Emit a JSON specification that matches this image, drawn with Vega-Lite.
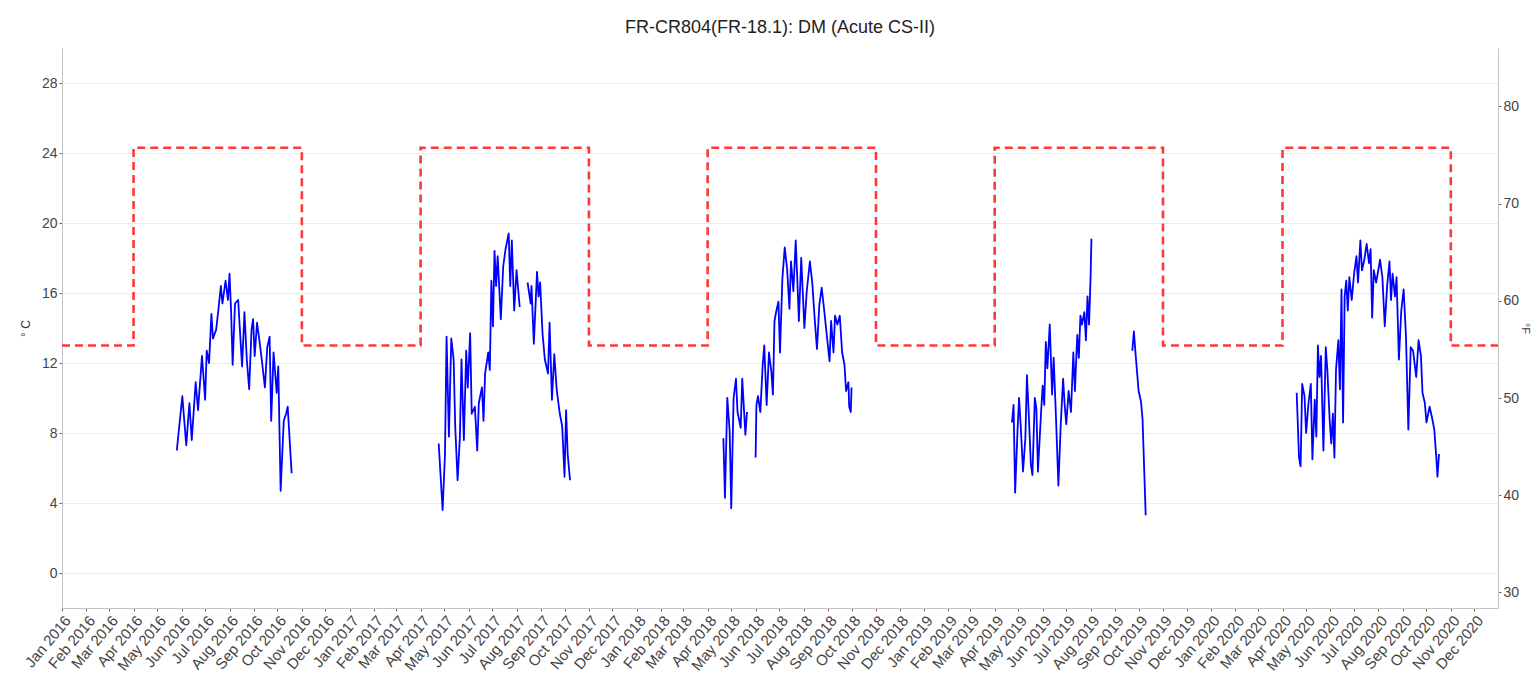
{
  "$schema": "https://vega.github.io/schema/vega-lite/v6.json",
  "width": 1436,
  "height": 560,
  "autosize": "none",
  "padding": {"left": 62, "top": 48, "right": 38, "bottom": 83},
  "background": "white",
  "config": {
    "view": {"stroke": null},
    "font": "Liberation Sans",
    "axis": {
      "domainColor": "#c4c4c4",
      "tickColor": "#666666",
      "tickSize": 3,
      "labelColor": "#444444",
      "labelFontSize": 14,
      "titleColor": "#333333",
      "titleFontSize": 12,
      "titleFontWeight": "normal"
    }
  },
  "title": {
    "text": "FR-CR804(FR-18.1): DM (Acute CS-II)",
    "fontSize": 18,
    "fontWeight": "normal",
    "color": "#222222",
    "anchor": "middle",
    "offset": 11
  },
  "datasets": {
    "temps": [
      {"d": "2016-05-26", "t": 7.0, "s": "2016"},
      {"d": "2016-06-02", "t": 10.1, "s": "2016"},
      {"d": "2016-06-07", "t": 7.3, "s": "2016"},
      {"d": "2016-06-11", "t": 9.7, "s": "2016"},
      {"d": "2016-06-14", "t": 7.6, "s": "2016"},
      {"d": "2016-06-19", "t": 10.9, "s": "2016"},
      {"d": "2016-06-22", "t": 9.3, "s": "2016"},
      {"d": "2016-06-27", "t": 12.4, "s": "2016"},
      {"d": "2016-07-01", "t": 9.9, "s": "2016"},
      {"d": "2016-07-03", "t": 12.7, "s": "2016"},
      {"d": "2016-07-06", "t": 12.0, "s": "2016"},
      {"d": "2016-07-09", "t": 14.8, "s": "2016"},
      {"d": "2016-07-11", "t": 13.4, "s": "2016"},
      {"d": "2016-07-15", "t": 13.9, "s": "2016"},
      {"d": "2016-07-18", "t": 15.1, "s": "2016"},
      {"d": "2016-07-21", "t": 16.4, "s": "2016"},
      {"d": "2016-07-23", "t": 15.4, "s": "2016"},
      {"d": "2016-07-27", "t": 16.7, "s": "2016"},
      {"d": "2016-07-30", "t": 15.6, "s": "2016"},
      {"d": "2016-08-01", "t": 17.1, "s": "2016"},
      {"d": "2016-08-03", "t": 15.0, "s": "2016"},
      {"d": "2016-08-05", "t": 11.9, "s": "2016"},
      {"d": "2016-08-08", "t": 15.4, "s": "2016"},
      {"d": "2016-08-12", "t": 15.6, "s": "2016"},
      {"d": "2016-08-15", "t": 13.3, "s": "2016"},
      {"d": "2016-08-17", "t": 11.8, "s": "2016"},
      {"d": "2016-08-20", "t": 14.9, "s": "2016"},
      {"d": "2016-08-23", "t": 12.2, "s": "2016"},
      {"d": "2016-08-26", "t": 10.5, "s": "2016"},
      {"d": "2016-08-29", "t": 13.9, "s": "2016"},
      {"d": "2016-08-31", "t": 14.5, "s": "2016"},
      {"d": "2016-09-02", "t": 12.4, "s": "2016"},
      {"d": "2016-09-05", "t": 14.3, "s": "2016"},
      {"d": "2016-09-08", "t": 13.3, "s": "2016"},
      {"d": "2016-09-11", "t": 12.2, "s": "2016"},
      {"d": "2016-09-15", "t": 10.6, "s": "2016"},
      {"d": "2016-09-18", "t": 12.9, "s": "2016"},
      {"d": "2016-09-21", "t": 13.5, "s": "2016"},
      {"d": "2016-09-23", "t": 8.7, "s": "2016"},
      {"d": "2016-09-26", "t": 12.6, "s": "2016"},
      {"d": "2016-09-30", "t": 10.3, "s": "2016"},
      {"d": "2016-10-02", "t": 11.8, "s": "2016"},
      {"d": "2016-10-05", "t": 4.7, "s": "2016"},
      {"d": "2016-10-09", "t": 8.7, "s": "2016"},
      {"d": "2016-10-12", "t": 9.1, "s": "2016"},
      {"d": "2016-10-14", "t": 9.5, "s": "2016"},
      {"d": "2016-10-19", "t": 5.7, "s": "2016"},

      {"d": "2017-04-24", "t": 7.4, "s": "2017a"},
      {"d": "2017-04-27", "t": 5.1, "s": "2017a"},
      {"d": "2017-04-29", "t": 3.6, "s": "2017a"},
      {"d": "2017-05-02", "t": 6.8, "s": "2017a"},
      {"d": "2017-05-04", "t": 13.5, "s": "2017a"},
      {"d": "2017-05-07", "t": 7.8, "s": "2017a"},
      {"d": "2017-05-10", "t": 13.4, "s": "2017a"},
      {"d": "2017-05-13", "t": 12.2, "s": "2017a"},
      {"d": "2017-05-15", "t": 8.4, "s": "2017a"},
      {"d": "2017-05-18", "t": 5.3, "s": "2017a"},
      {"d": "2017-05-21", "t": 7.8, "s": "2017a"},
      {"d": "2017-05-23", "t": 12.2, "s": "2017a"},
      {"d": "2017-05-26", "t": 7.6, "s": "2017a"},
      {"d": "2017-05-29", "t": 12.7, "s": "2017a"},
      {"d": "2017-05-31", "t": 10.6, "s": "2017a"},
      {"d": "2017-06-03", "t": 13.7, "s": "2017a"},
      {"d": "2017-06-05", "t": 9.1, "s": "2017a"},
      {"d": "2017-06-09", "t": 9.5, "s": "2017a"},
      {"d": "2017-06-12", "t": 7.0, "s": "2017a"},
      {"d": "2017-06-14", "t": 9.7, "s": "2017a"},
      {"d": "2017-06-18", "t": 10.6, "s": "2017a"},
      {"d": "2017-06-20", "t": 8.7, "s": "2017a"},
      {"d": "2017-06-22", "t": 11.4, "s": "2017a"},
      {"d": "2017-06-26", "t": 12.6, "s": "2017a"},
      {"d": "2017-06-28", "t": 11.6, "s": "2017a"},
      {"d": "2017-06-30", "t": 16.7, "s": "2017a"},
      {"d": "2017-07-02", "t": 14.1, "s": "2017a"},
      {"d": "2017-07-04", "t": 18.4, "s": "2017a"},
      {"d": "2017-07-06", "t": 16.4, "s": "2017a"},
      {"d": "2017-07-08", "t": 18.1, "s": "2017a"},
      {"d": "2017-07-12", "t": 14.5, "s": "2017a"},
      {"d": "2017-07-15", "t": 17.5, "s": "2017a"},
      {"d": "2017-07-18", "t": 18.5, "s": "2017a"},
      {"d": "2017-07-22", "t": 19.4, "s": "2017a"},
      {"d": "2017-07-24", "t": 16.4, "s": "2017a"},
      {"d": "2017-07-26", "t": 19.0, "s": "2017a"},
      {"d": "2017-07-29", "t": 15.0, "s": "2017a"},
      {"d": "2017-08-01", "t": 17.3, "s": "2017a"},
      {"d": "2017-08-05", "t": 15.2, "s": "2017a"},
      {"d": "2017-08-15", "t": 16.6, "s": "2017b"},
      {"d": "2017-08-19", "t": 15.4, "s": "2017b"},
      {"d": "2017-08-20", "t": 16.4, "s": "2017b"},
      {"d": "2017-08-23", "t": 13.1, "s": "2017b"},
      {"d": "2017-08-27", "t": 17.2, "s": "2017b"},
      {"d": "2017-08-29", "t": 15.8, "s": "2017b"},
      {"d": "2017-08-31", "t": 16.6, "s": "2017b"},
      {"d": "2017-09-03", "t": 13.7, "s": "2017b"},
      {"d": "2017-09-06", "t": 12.2, "s": "2017b"},
      {"d": "2017-09-10", "t": 11.4, "s": "2017b"},
      {"d": "2017-09-12", "t": 14.3, "s": "2017b"},
      {"d": "2017-09-15", "t": 9.9, "s": "2017b"},
      {"d": "2017-09-18", "t": 12.5, "s": "2017b"},
      {"d": "2017-09-21", "t": 10.5, "s": "2017b"},
      {"d": "2017-09-25", "t": 9.1, "s": "2017b"},
      {"d": "2017-09-28", "t": 8.4, "s": "2017b"},
      {"d": "2017-10-01", "t": 5.5, "s": "2017b"},
      {"d": "2017-10-03", "t": 9.3, "s": "2017b"},
      {"d": "2017-10-05", "t": 6.8, "s": "2017b"},
      {"d": "2017-10-08", "t": 5.3, "s": "2017b"},

      {"d": "2018-04-21", "t": 7.7, "s": "2018a"},
      {"d": "2018-04-23", "t": 4.3, "s": "2018a"},
      {"d": "2018-04-26", "t": 10.0, "s": "2018a"},
      {"d": "2018-04-29", "t": 8.1, "s": "2018a"},
      {"d": "2018-05-01", "t": 3.7, "s": "2018a"},
      {"d": "2018-05-04", "t": 10.0, "s": "2018a"},
      {"d": "2018-05-07", "t": 11.1, "s": "2018a"},
      {"d": "2018-05-09", "t": 9.2, "s": "2018a"},
      {"d": "2018-05-13", "t": 8.3, "s": "2018a"},
      {"d": "2018-05-15", "t": 11.1, "s": "2018a"},
      {"d": "2018-05-19", "t": 7.9, "s": "2018a"},
      {"d": "2018-05-21", "t": 9.2, "s": "2018a"},
      {"d": "2018-06-01", "t": 6.6, "s": "2018b"},
      {"d": "2018-06-02", "t": 9.6, "s": "2018b"},
      {"d": "2018-06-04", "t": 10.1, "s": "2018b"},
      {"d": "2018-06-07", "t": 9.2, "s": "2018b"},
      {"d": "2018-06-10", "t": 11.9, "s": "2018b"},
      {"d": "2018-06-12", "t": 13.0, "s": "2018b"},
      {"d": "2018-06-15", "t": 9.6, "s": "2018b"},
      {"d": "2018-06-18", "t": 12.6, "s": "2018b"},
      {"d": "2018-06-21", "t": 11.5, "s": "2018b"},
      {"d": "2018-06-23", "t": 10.2, "s": "2018b"},
      {"d": "2018-06-25", "t": 14.4, "s": "2018b"},
      {"d": "2018-06-27", "t": 14.9, "s": "2018b"},
      {"d": "2018-06-30", "t": 15.5, "s": "2018b"},
      {"d": "2018-07-02", "t": 12.6, "s": "2018b"},
      {"d": "2018-07-05", "t": 16.8, "s": "2018b"},
      {"d": "2018-07-08", "t": 18.6, "s": "2018b"},
      {"d": "2018-07-11", "t": 17.4, "s": "2018b"},
      {"d": "2018-07-14", "t": 15.1, "s": "2018b"},
      {"d": "2018-07-16", "t": 17.8, "s": "2018b"},
      {"d": "2018-07-19", "t": 16.1, "s": "2018b"},
      {"d": "2018-07-22", "t": 19.0, "s": "2018b"},
      {"d": "2018-07-24", "t": 16.8, "s": "2018b"},
      {"d": "2018-07-26", "t": 14.4, "s": "2018b"},
      {"d": "2018-07-29", "t": 18.0, "s": "2018b"},
      {"d": "2018-08-02", "t": 14.0, "s": "2018b"},
      {"d": "2018-08-05", "t": 16.1, "s": "2018b"},
      {"d": "2018-08-09", "t": 17.8, "s": "2018b"},
      {"d": "2018-08-12", "t": 16.6, "s": "2018b"},
      {"d": "2018-08-15", "t": 14.6, "s": "2018b"},
      {"d": "2018-08-18", "t": 12.8, "s": "2018b"},
      {"d": "2018-08-21", "t": 15.3, "s": "2018b"},
      {"d": "2018-08-24", "t": 16.3, "s": "2018b"},
      {"d": "2018-08-27", "t": 15.1, "s": "2018b"},
      {"d": "2018-08-30", "t": 13.8, "s": "2018b"},
      {"d": "2018-09-03", "t": 12.1, "s": "2018b"},
      {"d": "2018-09-05", "t": 14.4, "s": "2018b"},
      {"d": "2018-09-08", "t": 12.6, "s": "2018b"},
      {"d": "2018-09-10", "t": 14.7, "s": "2018b"},
      {"d": "2018-09-13", "t": 14.2, "s": "2018b"},
      {"d": "2018-09-16", "t": 14.7, "s": "2018b"},
      {"d": "2018-09-19", "t": 12.6, "s": "2018b"},
      {"d": "2018-09-22", "t": 11.9, "s": "2018b"},
      {"d": "2018-09-24", "t": 10.4, "s": "2018b"},
      {"d": "2018-09-27", "t": 10.9, "s": "2018b"},
      {"d": "2018-09-28", "t": 9.5, "s": "2018b"},
      {"d": "2018-09-30", "t": 9.2, "s": "2018b"},
      {"d": "2018-10-01", "t": 10.6, "s": "2018b"},

      {"d": "2019-04-23", "t": 8.6, "s": "2019a"},
      {"d": "2019-04-25", "t": 9.6, "s": "2019a"},
      {"d": "2019-04-27", "t": 4.6, "s": "2019a"},
      {"d": "2019-04-30", "t": 8.1, "s": "2019a"},
      {"d": "2019-05-02", "t": 10.0, "s": "2019a"},
      {"d": "2019-05-04", "t": 8.5, "s": "2019a"},
      {"d": "2019-05-07", "t": 5.8, "s": "2019a"},
      {"d": "2019-05-10", "t": 7.7, "s": "2019a"},
      {"d": "2019-05-12", "t": 11.3, "s": "2019a"},
      {"d": "2019-05-14", "t": 9.4, "s": "2019a"},
      {"d": "2019-05-17", "t": 6.2, "s": "2019a"},
      {"d": "2019-05-19", "t": 5.6, "s": "2019a"},
      {"d": "2019-05-22", "t": 10.0, "s": "2019a"},
      {"d": "2019-05-24", "t": 9.4, "s": "2019a"},
      {"d": "2019-05-26", "t": 5.8, "s": "2019a"},
      {"d": "2019-05-30", "t": 9.2, "s": "2019a"},
      {"d": "2019-06-01", "t": 10.7, "s": "2019a"},
      {"d": "2019-06-03", "t": 9.6, "s": "2019a"},
      {"d": "2019-06-05", "t": 13.2, "s": "2019a"},
      {"d": "2019-06-07", "t": 11.7, "s": "2019a"},
      {"d": "2019-06-10", "t": 14.2, "s": "2019a"},
      {"d": "2019-06-13", "t": 10.2, "s": "2019a"},
      {"d": "2019-06-15", "t": 12.3, "s": "2019a"},
      {"d": "2019-06-18", "t": 8.8, "s": "2019a"},
      {"d": "2019-06-21", "t": 5.0, "s": "2019a"},
      {"d": "2019-06-24", "t": 8.5, "s": "2019a"},
      {"d": "2019-06-27", "t": 11.1, "s": "2019a"},
      {"d": "2019-06-29", "t": 9.6, "s": "2019a"},
      {"d": "2019-07-01", "t": 8.5, "s": "2019a"},
      {"d": "2019-07-04", "t": 10.4, "s": "2019a"},
      {"d": "2019-07-07", "t": 9.2, "s": "2019a"},
      {"d": "2019-07-10", "t": 12.6, "s": "2019a"},
      {"d": "2019-07-12", "t": 10.4, "s": "2019a"},
      {"d": "2019-07-15", "t": 13.6, "s": "2019a"},
      {"d": "2019-07-17", "t": 12.3, "s": "2019a"},
      {"d": "2019-07-19", "t": 14.7, "s": "2019a"},
      {"d": "2019-07-21", "t": 14.2, "s": "2019a"},
      {"d": "2019-07-24", "t": 14.9, "s": "2019a"},
      {"d": "2019-07-26", "t": 13.3, "s": "2019a"},
      {"d": "2019-07-28", "t": 15.8, "s": "2019a"},
      {"d": "2019-07-30", "t": 14.2, "s": "2019a"},
      {"d": "2019-08-01", "t": 17.0, "s": "2019a"},
      {"d": "2019-08-02", "t": 19.1, "s": "2019a"},
      {"d": "2019-09-23", "t": 12.7, "s": "2019b"},
      {"d": "2019-09-25", "t": 13.8, "s": "2019b"},
      {"d": "2019-09-27", "t": 12.6, "s": "2019b"},
      {"d": "2019-10-01", "t": 10.4, "s": "2019b"},
      {"d": "2019-10-04", "t": 9.8, "s": "2019b"},
      {"d": "2019-10-06", "t": 8.8, "s": "2019b"},
      {"d": "2019-10-10", "t": 3.3, "s": "2019b"},

      {"d": "2020-04-19", "t": 10.3, "s": "2020"},
      {"d": "2020-04-22", "t": 6.6, "s": "2020"},
      {"d": "2020-04-24", "t": 6.1, "s": "2020"},
      {"d": "2020-04-26", "t": 10.8, "s": "2020"},
      {"d": "2020-04-29", "t": 10.1, "s": "2020"},
      {"d": "2020-05-01", "t": 8.0, "s": "2020"},
      {"d": "2020-05-04", "t": 9.7, "s": "2020"},
      {"d": "2020-05-07", "t": 10.8, "s": "2020"},
      {"d": "2020-05-09", "t": 6.5, "s": "2020"},
      {"d": "2020-05-12", "t": 9.9, "s": "2020"},
      {"d": "2020-05-14", "t": 7.8, "s": "2020"},
      {"d": "2020-05-16", "t": 13.0, "s": "2020"},
      {"d": "2020-05-18", "t": 11.2, "s": "2020"},
      {"d": "2020-05-20", "t": 12.4, "s": "2020"},
      {"d": "2020-05-23", "t": 7.0, "s": "2020"},
      {"d": "2020-05-26", "t": 12.9, "s": "2020"},
      {"d": "2020-05-28", "t": 11.6, "s": "2020"},
      {"d": "2020-05-31", "t": 8.7, "s": "2020"},
      {"d": "2020-06-02", "t": 7.4, "s": "2020"},
      {"d": "2020-06-04", "t": 9.1, "s": "2020"},
      {"d": "2020-06-06", "t": 6.6, "s": "2020"},
      {"d": "2020-06-08", "t": 11.6, "s": "2020"},
      {"d": "2020-06-11", "t": 13.3, "s": "2020"},
      {"d": "2020-06-13", "t": 10.5, "s": "2020"},
      {"d": "2020-06-15", "t": 16.2, "s": "2020"},
      {"d": "2020-06-17", "t": 8.6, "s": "2020"},
      {"d": "2020-06-19", "t": 15.8, "s": "2020"},
      {"d": "2020-06-21", "t": 16.7, "s": "2020"},
      {"d": "2020-06-23", "t": 15.0, "s": "2020"},
      {"d": "2020-06-25", "t": 16.9, "s": "2020"},
      {"d": "2020-06-28", "t": 15.6, "s": "2020"},
      {"d": "2020-07-01", "t": 17.1, "s": "2020"},
      {"d": "2020-07-04", "t": 18.1, "s": "2020"},
      {"d": "2020-07-06", "t": 16.6, "s": "2020"},
      {"d": "2020-07-09", "t": 19.0, "s": "2020"},
      {"d": "2020-07-11", "t": 17.3, "s": "2020"},
      {"d": "2020-07-14", "t": 17.9, "s": "2020"},
      {"d": "2020-07-17", "t": 18.8, "s": "2020"},
      {"d": "2020-07-20", "t": 17.7, "s": "2020"},
      {"d": "2020-07-22", "t": 18.5, "s": "2020"},
      {"d": "2020-07-24", "t": 14.6, "s": "2020"},
      {"d": "2020-07-26", "t": 17.3, "s": "2020"},
      {"d": "2020-07-29", "t": 16.6, "s": "2020"},
      {"d": "2020-07-31", "t": 17.1, "s": "2020"},
      {"d": "2020-08-03", "t": 17.9, "s": "2020"},
      {"d": "2020-08-06", "t": 16.9, "s": "2020"},
      {"d": "2020-08-09", "t": 14.1, "s": "2020"},
      {"d": "2020-08-12", "t": 16.4, "s": "2020"},
      {"d": "2020-08-15", "t": 17.8, "s": "2020"},
      {"d": "2020-08-17", "t": 15.6, "s": "2020"},
      {"d": "2020-08-19", "t": 17.1, "s": "2020"},
      {"d": "2020-08-22", "t": 15.8, "s": "2020"},
      {"d": "2020-08-24", "t": 16.9, "s": "2020"},
      {"d": "2020-08-27", "t": 12.2, "s": "2020"},
      {"d": "2020-08-30", "t": 15.0, "s": "2020"},
      {"d": "2020-09-02", "t": 16.2, "s": "2020"},
      {"d": "2020-09-05", "t": 13.5, "s": "2020"},
      {"d": "2020-09-08", "t": 8.2, "s": "2020"},
      {"d": "2020-09-11", "t": 12.9, "s": "2020"},
      {"d": "2020-09-14", "t": 12.7, "s": "2020"},
      {"d": "2020-09-18", "t": 11.2, "s": "2020"},
      {"d": "2020-09-21", "t": 13.3, "s": "2020"},
      {"d": "2020-09-24", "t": 12.4, "s": "2020"},
      {"d": "2020-09-26", "t": 10.3, "s": "2020"},
      {"d": "2020-09-29", "t": 9.7, "s": "2020"},
      {"d": "2020-10-01", "t": 8.6, "s": "2020"},
      {"d": "2020-10-05", "t": 9.5, "s": "2020"},
      {"d": "2020-10-08", "t": 8.9, "s": "2020"},
      {"d": "2020-10-11", "t": 8.2, "s": "2020"},
      {"d": "2020-10-14", "t": 6.3, "s": "2020"},
      {"d": "2020-10-15", "t": 5.5, "s": "2020"},
      {"d": "2020-10-17", "t": 6.8, "s": "2020"}
    ],
    "crit": [
      {"d": "2016-01-01", "t": 13},
      {"d": "2016-04-01", "t": 24.3},
      {"d": "2016-11-01", "t": 13},
      {"d": "2017-04-01", "t": 24.3},
      {"d": "2017-11-01", "t": 13},
      {"d": "2018-04-01", "t": 24.3},
      {"d": "2018-11-01", "t": 13},
      {"d": "2019-04-01", "t": 24.3},
      {"d": "2019-11-01", "t": 13},
      {"d": "2020-04-01", "t": 24.3},
      {"d": "2020-11-01", "t": 13},
      {"d": "2020-12-31", "t": 13}
    ]
  },
  "encoding": {
    "x": {
      "field": "d",
      "type": "temporal",
      "scale": {
        "type": "utc",
        "domain": [
          {"year": 2016, "month": 1, "date": 1, "utc": true},
          {"year": 2020, "month": 12, "date": 31, "utc": true}
        ]
      },
      "axis": {
        "title": null,
        "grid": false,
        "tickCount": {"interval": "month", "step": 1},
        "labelExpr": "utcFormat(datum.value, '%b %Y')",
        "labelAngle": -50,
        "labelAlign": "right",
        "labelBaseline": "top",
        "labelPadding": 2,
        "labelFontSize": 15,
        "labelOverlap": false
      }
    }
  },
  "layer": [
    {
      "data": {"name": "temps"},
      "mark": {"type": "line", "color": "#0000ff", "strokeWidth": 1.8, "strokeJoin": "round"},
      "encoding": {
        "y": {
          "field": "t",
          "type": "quantitative",
          "scale": {"domain": [-2, 30], "nice": false, "zero": false},
          "axis": {
            "title": "° C",
            "values": [0, 4, 8, 12, 16, 20, 24, 28],
            "grid": true,
            "gridColor": "#ececec",
            "titlePadding": 9
          }
        },
        "detail": {"field": "s", "type": "nominal"}
      }
    },
    {
      "data": {"name": "crit"},
      "mark": {"type": "line", "color": "#ff3838", "strokeWidth": 2.6, "strokeDash": [8, 5], "interpolate": "step-after"},
      "encoding": {
        "y": {
          "field": "t",
          "type": "quantitative",
          "scale": {"domain": [-2, 30], "nice": false, "zero": false},
          "axis": {
            "orient": "right",
            "title": "°F",
            "titleFontSize": 11,
            "values": [-1.1111111, 4.4444444, 10, 15.5555556, 21.1111111, 26.6666667],
            "labelExpr": "format(datum.value * 1.8 + 32, '.0f')",
            "grid": false,
            "titlePadding": 1
          }
        }
      }
    }
  ],
  "resolve": {"scale": {"y": "independent"}}
}
